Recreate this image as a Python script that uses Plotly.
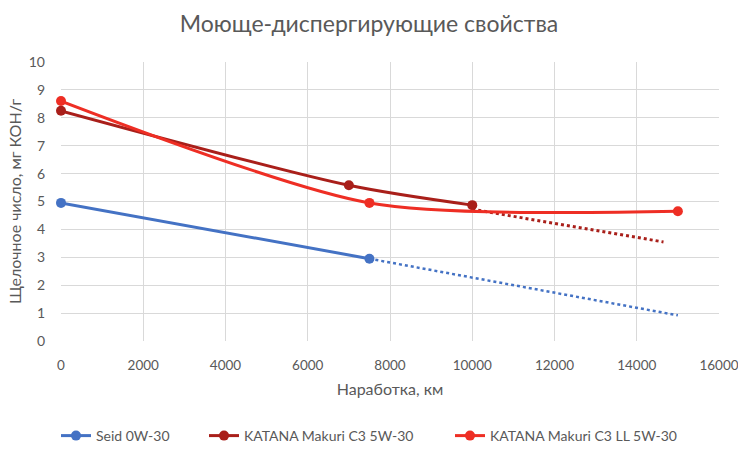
import plotly.graph_objects as go

# Data
seid_x = [0, 7500]
seid_y = [4.95, 2.95]
seid_trend_x = [7500, 15000]
seid_trend_y = [2.95, 0.92]

katana_x = [0, 7000, 10000]
katana_y = [8.25, 5.58, 4.87]
katana_trend_x = [10000, 14650]
katana_trend_y = [4.72, 3.55]

katana_ll_x = [0, 7500, 15000]
katana_ll_y = [8.6, 4.95, 4.65]

names = ["Seid 0W-30", "KATANA Makuri C3 5W-30", "KATANA Makuri C3 LL 5W-30"]
colors = ["#4472C4", "#A91F1A", "#EE2E24"]

x_ticks = list(range(0, 16001, 2000))
x_ticktext = [str(v) for v in x_ticks]
y_ticks = list(range(0, 11))

font_family = "Lato, 'Open Sans', sans-serif"
gray = "#595959"

W, H = 738, 450
L, R, T, B = 61, 19, 62, 109
PW = W - L - R
PH = H - T - B

fig = go.Figure()

# trendlines
fig.add_trace(go.Scatter(x=seid_trend_x, y=seid_trend_y, mode="lines",
                         line=dict(color=colors[0], width=2.5, dash="dot"),
                         showlegend=False, hoverinfo="skip"))
fig.add_trace(go.Scatter(x=katana_trend_x, y=katana_trend_y, mode="lines",
                         line=dict(color=colors[1], width=3, dash="dot"),
                         showlegend=False, hoverinfo="skip"))

fig.add_trace(go.Scatter(x=seid_x, y=seid_y, mode="lines+markers", name=names[0],
                         line=dict(color=colors[0], width=3, shape="spline"),
                         marker=dict(size=10, color=colors[0]), cliponaxis=False,
                         legend="legend"))
fig.add_trace(go.Scatter(x=katana_x, y=katana_y, mode="lines+markers", name=names[1],
                         line=dict(color=colors[1], width=3, shape="spline", smoothing=0.8),
                         marker=dict(size=10, color=colors[1]), cliponaxis=False,
                         legend="legend2"))
fig.add_trace(go.Scatter(x=katana_ll_x, y=katana_ll_y, mode="lines+markers", name=names[2],
                         line=dict(color=colors[2], width=3, shape="spline", smoothing=0.75),
                         marker=dict(size=10, color=colors[2]), cliponaxis=False,
                         legend="legend3"))

def leg(xpx):
    # xpx: desired x of the legend symbol start
    fx = xpx - 4
    fy = 436
    return dict(orientation="h", x=(fx - L) / PW, xanchor="left",
                y=-(fy - (H - B)) / PH, yanchor="middle",
                font=dict(size=14, color=gray), itemwidth=30, bgcolor="rgba(0,0,0,0)")

fig.update_layout(
    width=W, height=H,
    paper_bgcolor="white", plot_bgcolor="white",
    margin=dict(l=L, r=R, t=T, b=B, autoexpand=False),
    font=dict(family=font_family, color=gray, size=14),
    title=dict(text="Моюще-диспергирующие свойства", x=369 / W, xanchor="center",
               y=1 - 24 / H, yanchor="middle",
               font=dict(size=23, color=gray, family=font_family)),
    xaxis=dict(range=[0, 16000], tickvals=x_ticks, ticktext=x_ticktext, showgrid=True,
               gridcolor="#D9D9D9", gridwidth=1, zeroline=False, showline=False, ticks="",
               tickfont=dict(size=13.5, color=gray), ticklabelstandoff=14, automargin=False,
               ticklabeloverflow="allow",
               title=dict(text="Наработка, км", font=dict(size=16, color=gray), standoff=12)),
    yaxis=dict(range=[0, 10], tickvals=y_ticks, showgrid=True, gridcolor="#D9D9D9",
               gridwidth=1, zeroline=False, showline=False, ticks="",
               tickfont=dict(size=14, color=gray), ticklabelstandoff=15, automargin=False,
               title=dict(text="Щелочное число, мг КОН/г", font=dict(size=16, color=gray), standoff=3)),
    legend=leg(60),
    legend2=leg(208),
    legend3=leg(454),
)

fig.write_html(
    "out.html",
    config={"displayModeBar": False},
    post_script="document.body.style.margin='0';document.documentElement.style.overflow='hidden';",
)
